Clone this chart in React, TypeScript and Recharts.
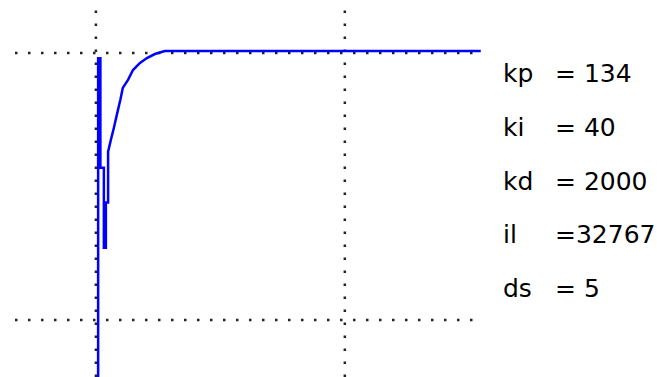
import * as React from "react";
import { LineChart, Line, XAxis, YAxis, ReferenceLine } from "recharts";

// Resposta ao degrau do PID: tempo (ms) x posição (% do setpoint)
const tempo = [
  0.9, 0.9, 1.8, 1.8, 3.2, 3.2, 4.0, 4.0, 4.9, 4.9, 6.0, 7.2, 8.4, 9.8, 10.8, 12.9, 14.9, 17.7,
  20.5, 23.7, 27.7, 154.6,
];
const posicao = [
  -21.4, 98, 98, 57, 57, 27, 27, 44, 44, 63, 67.4, 71.9, 76.8, 82.4, 86.9, 89.9, 93.6, 96.3,
  98.1, 99.6, 100.7, 100.7,
];

// linhas pontilhadas de referência
const gradeTempo = [0, 100];
const gradePosicao = [0, 100];

// parâmetros do controlador, como aparecem na legenda
const nomesGanho = ["kp", "ki", "kd", "il", "ds"];
const valoresGanho = ["= 134", "= 40", "= 2000", "=32767", "= 5"];

const AZUL = "#0000ff";
const COR_PONTO = "#222";

const dados = tempo.map((t, i) => ({ t, v: posicao[i] }));

export default function App() {
  return (
    <div style={{ position: "absolute", left: 0, top: 0, width: 657, height: 377, background: "#fff" }}>
      <LineChart width={657} height={377} data={dados} margin={{ top: 10, right: 175, bottom: 0, left: 15 }}>
        <XAxis type="number" dataKey="t" domain={[-32.5, 155.1]} hide allowDataOverflow />
        <YAxis type="number" domain={[-21.4, 116.1]} hide allowDataOverflow />
        {gradePosicao.map((y) => (
          <ReferenceLine key={"h" + y} y={y} stroke={COR_PONTO} strokeWidth={2.5} strokeDasharray="2.5 10.5" />
        ))}
        {gradeTempo.map((x) => (
          <ReferenceLine key={"v" + x} x={x} stroke={COR_PONTO} strokeWidth={2.5} strokeDasharray="2.5 10.5" />
        ))}
        <Line
          type="linear"
          dataKey="v"
          stroke={AZUL}
          strokeWidth={2.5}
          dot={false}
          activeDot={false}
          isAnimationActive={false}
        />
      </LineChart>
      <svg width={657} height={377} style={{ position: "absolute", left: 0, top: 0 }}>
        {nomesGanho.map((n, i) => (
          <g key={n} fontFamily="DejaVu Sans" fontSize={25} fill="#000">
            <text x={503} y={82 + i * 53.75}>{n}</text>
            <text x={555} y={82 + i * 53.75}>{valoresGanho[i]}</text>
          </g>
        ))}
      </svg>
    </div>
  );
}
